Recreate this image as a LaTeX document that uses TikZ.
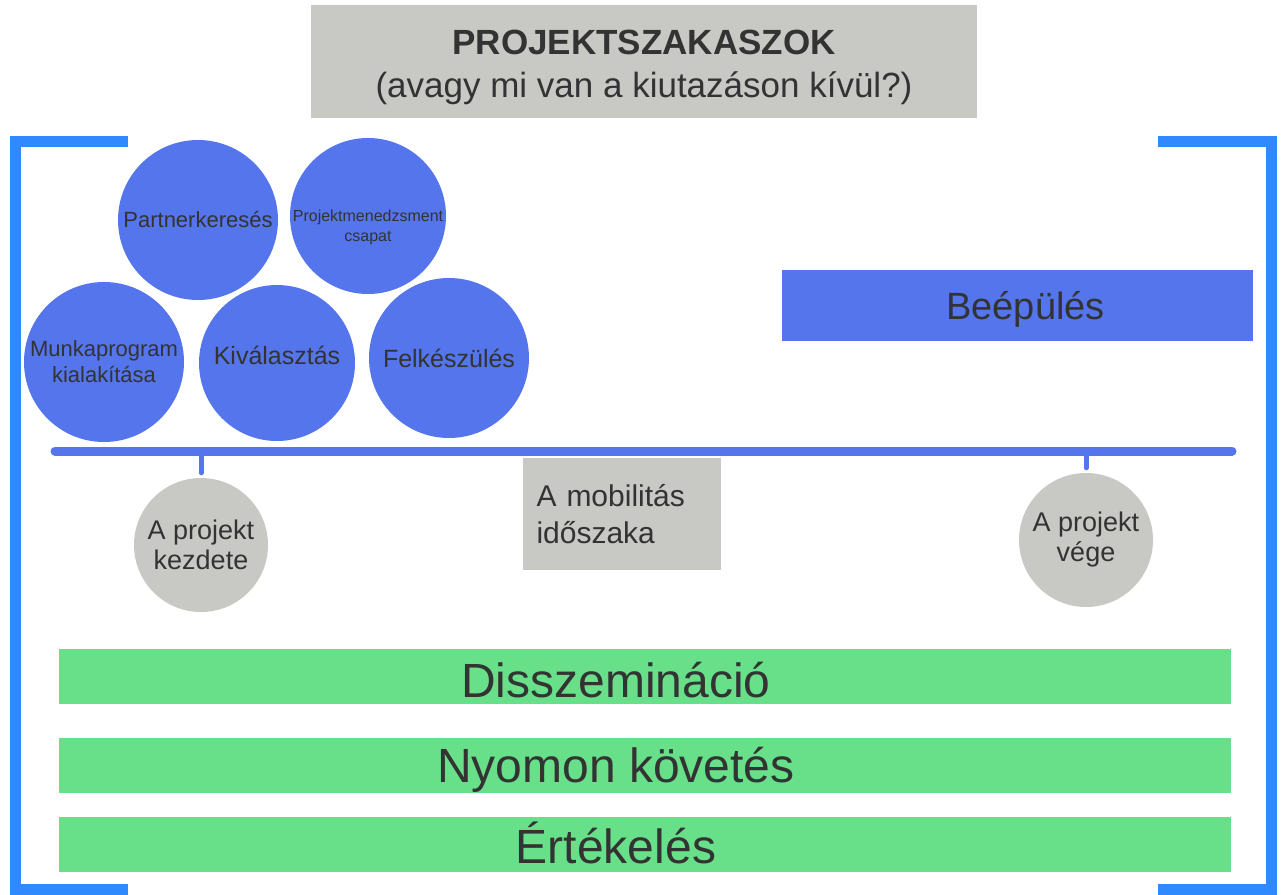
\documentclass[tikz,border=0pt]{standalone}
\usepackage{fontspec}
\setmainfont{Liberation Sans}

\definecolor{kek}{HTML}{5475EB}
\definecolor{keret}{HTML}{3189FF}
\definecolor{szurke}{HTML}{C8C8C4}
\definecolor{zold}{HTML}{68E089}
\definecolor{szoveg}{HTML}{333333}

\tikzset{
  kor/.style={circle, fill=kek, draw=none, inner sep=0pt, align=center, text=szoveg},
  szurkekor/.style={circle, fill=szurke, draw=none, inner sep=0pt, align=center, text=szoveg,
    minimum size=134, font=\fontsize{27}{30}\selectfont},
  zoldsav/.style={rectangle, fill=zold, draw=none, minimum width=1172, minimum height=55},
  savfelirat/.style={anchor=base, text=szoveg, inner sep=0pt, font=\fontsize{48}{56}\selectfont},
  idovonal/.style={kek, line width=9, line cap=round},
  jelzo/.style={kek, line width=5, line cap=round},
  zarojel/.style={keret, line width=11}
}

\begin{document}
\begin{tikzpicture}[x=1pt, y=-1pt]
\useasboundingbox (0,0) rectangle (1284,894);

% Cím
\node[fill=szurke, minimum width=666, minimum height=113,
  label={[align=center, text=szoveg, yshift=-6, font=\fontsize{35}{43}\selectfont]center:
  \textbf{PROJEKTSZAKASZOK}\\(avagy mi van a kiutazáson kívül?)}] (cim) at (644,61.5) {};

% Keret
\draw[zarojel] (128,141) -- (15,141) -- (15,889) -- (128,889);
\draw[zarojel] (1158,141) -- (1271,141) -- (1271,889) -- (1158,889);

% Előkészítés körei
\node[kor, minimum size=160, font=\fontsize{22}{26}\selectfont] (partner) at (198,220) {Partnerkeresés};
\node[kor, minimum size=156, label={[align=center, text=szoveg, yshift=-11,
  font=\fontsize{16}{20}\selectfont]center:Projektmenedzsment\\csapat}] (pm) at (368,216) {};
\node[kor, minimum size=160, font=\fontsize{22}{26}\selectfont] (munka) at (104,362) {Munkaprogram\\kialakítása};
\node[kor, minimum size=156, font=\fontsize{25}{30}\selectfont] (kival) at (277,363) {Kiválasztás\\[-14pt]};
\node[kor, minimum size=160, font=\fontsize{25}{30}\selectfont] (felk) at (449,358) {Felkészülés};

% Beépülés
\node[fill=kek, minimum width=471, minimum height=71, text=szoveg, text depth=0pt,
  font=\fontsize{38}{44}\selectfont] (beep) at (1017.5,305.5) {\hspace{16pt}Beépülés};

% Idővonal
\coordinate (t0) at (55,451);
\coordinate (t1) at (1232,451);
\coordinate (tk) at (201,451);
\coordinate (tv) at (1086,451);
\draw[idovonal] (t0) -- (t1);

\node[szurkekor] (kezdet) at (201,545) {A projekt\\kezdete};
\node[szurkekor] (veg) at (1086,540) {A projekt\\vége};
\draw[jelzo, shorten >=5] (tk) -- (kezdet.north);
\draw[jelzo, shorten >=5] (tv) -- (veg.north);

\node[fill=szurke, minimum height=112, text width=170, inner xsep=14, align=left,
  text=szoveg, font=\fontsize{30}{37}\selectfont] (mob) at (621.5,514) {A mobilitás\\időszaka};

% Folyamatos tevékenységek
\node[zoldsav] (dissz) at (645,676.5) {};
\node[zoldsav] (nyom) at (645,765.5) {};
\node[zoldsav] (ert) at (645,844.5) {};
\node[savfelirat] (disszt) at (616,697) {Disszemináció};
\node[savfelirat] (nyomt) at (616,782) {Nyomon követés};
\node[savfelirat] (ertt) at (616,863) {Értékelés};
\end{tikzpicture}
\end{document}
